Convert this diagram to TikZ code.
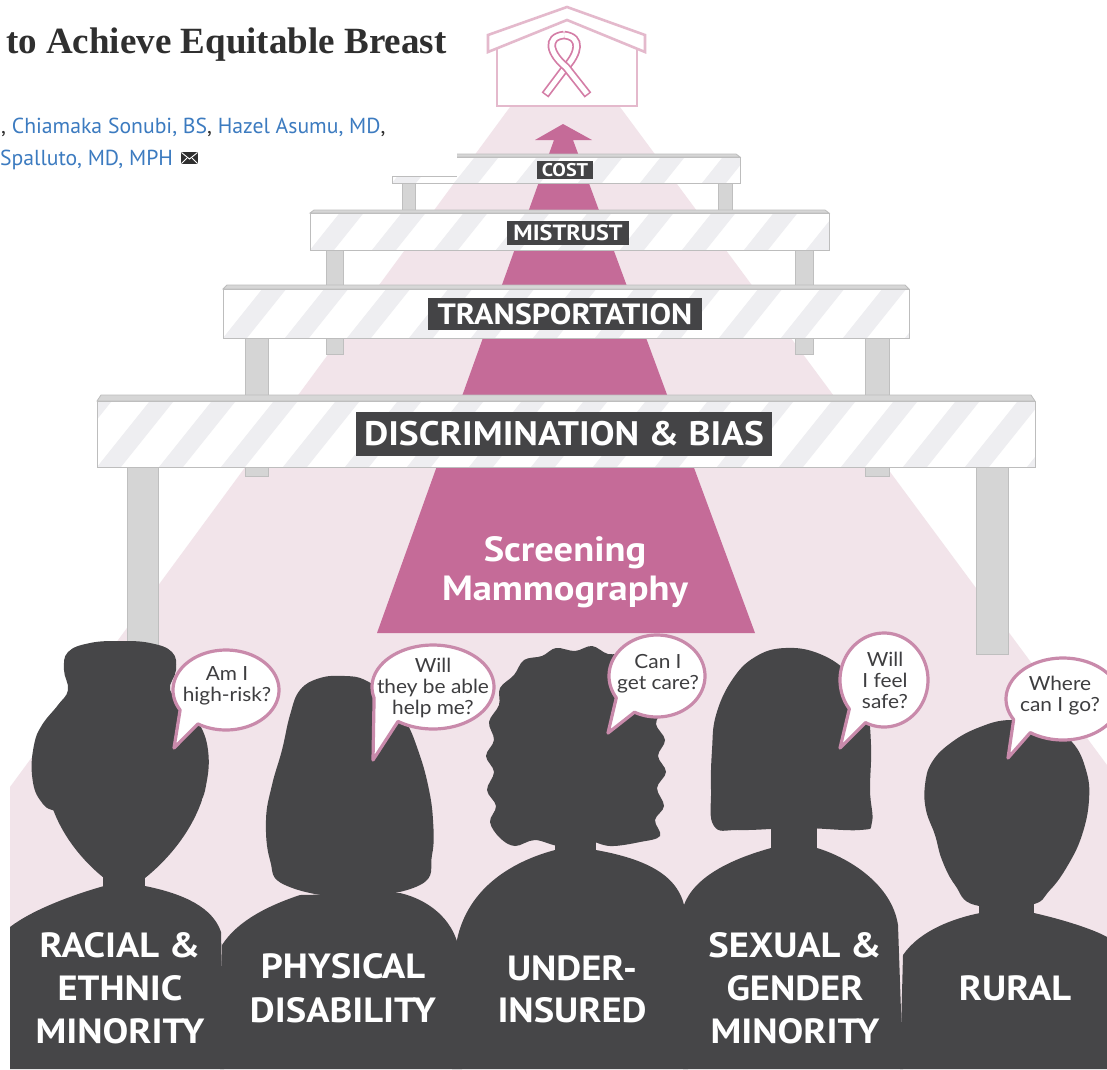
\documentclass[tikz,border=0pt]{standalone}
\usepackage{fontspec}
\setmainfont{PT Sans}
\newfontfamily\sansfont{PT Sans}
\newfontfamily\widesans{PT Sans}[FakeStretch=1.1]
\newfontfamily\bubblefont{Lato}[FakeStretch=1.07]
\newfontfamily\titlefont{Liberation Serif}

\definecolor{cSil}{HTML}{464648}
\definecolor{cTag}{HTML}{444446}
\definecolor{cMauve}{HTML}{C56B98}
\definecolor{cCone}{HTML}{F2E4EA}
\definecolor{cBubbleEdge}{HTML}{C98AAB}
\definecolor{cHouse}{HTML}{E4B9CC}
\definecolor{cRibbon}{HTML}{D47DA6}
\definecolor{cStripe}{HTML}{EEEEF1}
\definecolor{cRim}{HTML}{BDBDBD}
\definecolor{cTop}{HTML}{D6D6D6}
\definecolor{cPost}{HTML}{D5D5D5}
\definecolor{cPostEdge}{HTML}{BFBFBF}
\definecolor{cLink}{HTML}{3C7BC0}
\definecolor{cInk}{HTML}{2F2F2F}
\definecolor{cBubbleText}{HTML}{3E3E40}

% one striped road barrier: left, top-face y, front-top y, right, bottom
\newcommand{\drawbarrier}[5]{%
  \fill[white] (#1,#3) rectangle (#4,#5);
  \begin{scope}
    \clip (#1,#3) rectangle (#4,#5);
    \foreach \k in {-3,...,18}
      \fill[cStripe] ({#1+\k*62},#5) -- ++(24,0) -- ++({0.8*(#5-#3)},{-(#5-#3)}) -- ++(-24,0) -- cycle;
  \end{scope}
  \draw[barrim] (#1,#3) rectangle (#4,#5);
  \filldraw[bartop] (#1,#3) -- (#1+4,#2) -- (#4-4,#2) -- (#4,#3) -- cycle;
}

% speech bubble: cx, cy, rx, ry, tail angle near bottom, tail angle near side, tip x, tip y
\newcommand{\speech}[8]{%
  \filldraw[bubble] plot[domain=#6:#5+360, samples=90, variable=\t] ({#1+#3*cos(\t)},{#2+#4*sin(\t)})
    -- (#7,#8) -- cycle;
}

\begin{document}
\begin{tikzpicture}[x=1pt,y=-1pt,
  silhouette/.style={fill=cSil},
  barrim/.style={draw=cRim, line width=1},
  bartop/.style={fill=cTop, draw=cRim, line width=0.8},
  barpost/.style={fill=cPost, draw=cPostEdge, line width=1},
  tag/.style={fill=cTag, text=white, inner sep=0},
  bubble/.style={fill=white, draw=cBubbleEdge, line width=3.2, line join=round},
  bubbletext/.style={text=cBubbleText, align=center, inner sep=0,
    font=\bubblefont\fontsize{19.5}{21}\selectfont},
  grouplabel/.style={text=white, anchor=base, inner sep=0,
    font=\widesans\bfseries\fontsize{35}{43}\selectfont},
  houseline/.style={draw=cHouse, line width=2.6, line join=miter, fill=white},
]
\useasboundingbox (0,0) rectangle (1107,1069);
\clip (0,0) rectangle (1107,1069);
\fill[white] (0,0) rectangle (1107,1069);

% light beam below the house
\fill[cCone] (510,107) -- (620,107) -- (1107,765) -- (1107,1069) -- (10,1069) -- (10,787) -- cycle;

% the path to screening, ending in an arrow
\fill[cMauve] (563,124) -- (592,140) -- (573,140) -- (755,633) -- (377,633) -- (554,140) -- (535,140) -- cycle;

% house with the ribbon
\filldraw[houseline] (497,48) -- (497,106) -- (637,106) -- (637,48);
\filldraw[houseline] (488,52) -- (488,35) -- (567,7) -- (645,35) -- (645,52) -- (567,20) -- cycle;
\draw[cRibbon, line width=8.5] (545,95) -- (566,67) .. controls (578,54) and (583,37) .. (564,35);
\draw[white, line width=5, shorten <=1.6pt] (545,95) -- (566,67) .. controls (578,54) and (583,37) .. (564,35);
\draw[cRibbon, line width=8.5] (564,35) .. controls (545,37) and (550,54) .. (566,67) -- (588,95);
\draw[white, line width=5, shorten >=1.6pt] (564,35) .. controls (545,37) and (550,54) .. (566,67) -- (588,95);

% cost barrier
\draw[barpost] (402,183) rectangle (415,212);
\draw[barpost] (718,183) rectangle (732,212);
\drawbarrier{392}{154}{157}{740}{183}
\fill[white] (380,140) rectangle (457,175.5);
\draw[barrim] (392,176) -- (457,176);
\node[tag, minimum width=56, minimum height=18, font=\widesans\bfseries\fontsize{18.4}{18.4}\selectfont] (cost) at (565,170) {COST};

% mistrust barrier
\draw[barpost] (326,250) rectangle (343,354);
\draw[barpost] (795,250) rectangle (813,354);
\drawbarrier{310}{210}{213}{829}{250}
\node[tag, minimum width=122, minimum height=24, font=\widesans\bfseries\fontsize{22}{22}\selectfont] (mistrust) at (568,233) {MISTRUST};

% transportation barrier
\draw[barpost] (245,338) rectangle (268,476);
\draw[barpost] (865,338) rectangle (889,476);
\drawbarrier{223}{285}{289}{909}{338}
\node[tag, minimum width=274, minimum height=32, font=\widesans\bfseries\fontsize{29.3}{29.3}\selectfont] (transport) at (565,314) {TRANSPORTATION};

% discrimination barrier
\draw[barpost] (127,467) rectangle (158,646);
\draw[barpost] (976,467) rectangle (1008,654);
\drawbarrier{97}{395}{401}{1035}{467}
\node[tag, minimum width=416, minimum height=44, font=\widesans\bfseries\fontsize{34}{34}\selectfont] (discrim) at (564,434) {DISCRIMINATION \& BIAS};

% goal text
\node[text=white, anchor=base, inner sep=0, font=\widesans\bfseries\fontsize{35}{35}\selectfont] (screen1) at (565,561) {Screening};
\node[text=white, anchor=base, inner sep=0, font=\widesans\bfseries\fontsize{35}{35}\selectfont] (screen2) at (565,600) {Mammography};

% heading and authors
\node[anchor=base west, inner sep=0, text=cInk, font=\titlefont\bfseries\fontsize{37}{37}\selectfont] (title) at (6,53) {to Achieve Equitable Breast};
\node[anchor=base west, inner sep=0, font=\sansfont\fontsize{21.7}{21.7}\selectfont] (authors1) at (1,133)
  {\textcolor{cInk}{,} \textcolor{cLink}{Chiamaka Sonubi, BS}\textcolor{cInk}{,} \textcolor{cLink}{Hazel Asumu, MD}\textcolor{cInk}{,}};
\node[anchor=base west, inner sep=0, text=cLink, font=\sansfont\fontsize{21.7}{21.7}\selectfont] (authors2) at (0,165) {Spalluto, MD, MPH};
\fill[cInk] (181,152) rectangle (198,164);
\draw[white, line width=0.9] (181.5,152.5) -- (189.5,159) -- (197.5,152.5);
\draw[white, line width=0.9] (181.5,163.5) -- (187,158);
\draw[white, line width=0.9] (197.5,163.5) -- (192,158);

% figure 1
\fill[silhouette] (10,1069) -- (10,927) .. controls (32,910) and (72,895) .. (104,886) -- (145,886) .. controls (185,894) and (213,908) .. (221,932) -- (224,1069) -- cycle;
\fill[silhouette] (103,840) rectangle (145,892);
\fill[silhouette] (50,800) -- (202,800) .. controls (190,835) and (165,862) .. (145,878) -- (104,878) .. controls (84,862) and (60,835) .. (50,800) -- cycle;
\fill[silhouette] plot[smooth cycle, tension=0.7] coordinates {(60,812) (40,800) (32,775) (34,745) (42,725) (58,705) (68,690) (64,670) (68,652) (90,643) (120,641) (150,643) (172,652) (176,670) (170,690) (185,705) (200,725) (208,750) (207,780) (198,805) (175,815) (120,818)};

% figure 2
\fill[silhouette] (220,1069) -- (222,945) .. controls (238,920) and (270,905) .. (300,895) -- (400,893) .. controls (430,900) and (452,920) .. (458,945) -- (462,1069) -- cycle;
\fill[silhouette] plot[smooth cycle, tension=0.7] coordinates {(285,885) (270,860) (266,820) (272,785) (282,750) (290,715) (300,690) (320,678) (345,676) (365,680) (385,695) (405,720) (418,750) (428,785) (433,820) (432,855) (420,885) (350,897)};

% figure 3
\fill[silhouette] (452,1069) -- (456,945) .. controls (465,890) and (510,862) .. (555,850) -- (596,850) .. controls (640,858) and (676,872) .. (684,905) -- (688,1069) -- cycle;
\fill[silhouette] (555,830) rectangle (596,860);
\fill[silhouette] plot[smooth cycle, tension=0.6] coordinates {(500,838) (490,822) (496,806) (487,790) (494,772) (486,756) (494,740) (489,722) (499,705) (500,688) (514,675) (524,660) (542,656) (556,648) (575,651) (592,646) (608,654) (626,654) (638,666) (652,674) (654,692) (662,708) (656,724) (665,740) (658,756) (666,772) (657,788) (664,806) (655,820) (660,836) (640,842) (610,846) (585,840) (560,846) (535,840) (515,846)};

% figure 4
\fill[silhouette] (683,1069) -- (684,905) .. controls (695,875) and (735,858) .. (771,848) -- (817,848) .. controls (850,858) and (892,885) .. (898,925) -- (903,1069) -- cycle;
\fill[silhouette] (771,820) rectangle (817,860);
\fill[silhouette] plot[smooth cycle, tension=0.7] coordinates {(714,826) (711,790) (712,750) (716,715) (732,680) (755,657) (785,648) (820,654) (850,675) (866,705) (871,745) (870,790) (872,822) (860,830) (800,828) (740,830)};

% figure 5
\fill[silhouette] (900,1069) -- (903,955) .. controls (920,930) and (955,918) .. (980,913) -- (1034,913) .. controls (1065,920) and (1095,930) .. (1107,937) -- (1107,1069) -- cycle;
\fill[silhouette] (979,880) rectangle (1034,925);
\fill[silhouette] plot[smooth cycle, tension=0.7] coordinates {(975,905) (955,885) (942,860) (935,835) (926,810) (925,785) (932,762) (952,742) (980,727) (1010,720) (1045,725) (1072,742) (1086,770) (1089,800) (1082,835) (1068,865) (1050,890) (1030,905)};

% speech bubbles
\speech{226}{690}{53}{40}{122}{150}{174}{748}
\node[bubbletext] (ask1) at (227,686) {Am I\\high-risk?};
\speech{433}{687}{61}{42}{125}{165}{373}{760}
\node[bubbletext] (ask2) at (433,688) {Will\\they be able\\help me?};
\speech{657}{676}{48}{41}{118}{148}{608}{733}
\node[bubbletext] (ask3) at (658,674) {Can I\\get care?};
\speech{884}{680}{44}{47}{115}{142}{840}{748}
\node[bubbletext] (ask4) at (885,680) {Will\\I feel\\safe?};
\speech{1063}{699}{57}{41}{125}{150}{1008}{758}
\node[bubbletext] (ask5) at (1060,696) {Where\\can I go?};

% group labels
\node[grouplabel] (racial1) at (120,957) {RACIAL \&};
\node[grouplabel] (racial2) at (120,1000) {ETHNIC};
\node[grouplabel] (racial3) at (120,1043) {MINORITY};
\node[grouplabel] (phys1) at (343,978) {PHYSICAL};
\node[grouplabel] (phys2) at (343,1022) {DISABILITY};
\node[grouplabel] (under1) at (572,980) {UNDER-};
\node[grouplabel] (under2) at (572,1022) {INSURED};
\node[grouplabel] (sexual1) at (795,957) {SEXUAL \&};
\node[grouplabel] (sexual2) at (795,1000) {GENDER};
\node[grouplabel] (sexual3) at (795,1043) {MINORITY};
\node[grouplabel] (rural) at (1015,1000) {RURAL};
\end{tikzpicture}
\end{document}
